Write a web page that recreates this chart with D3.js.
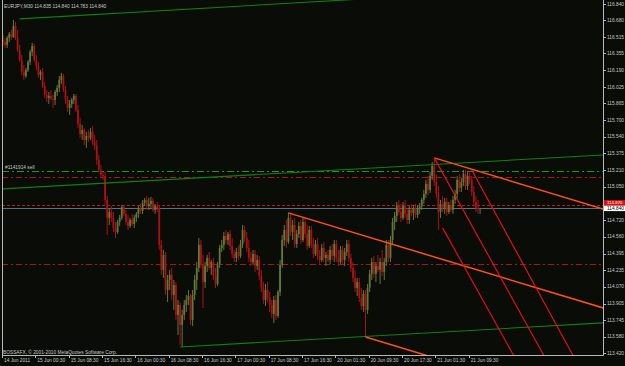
<!DOCTYPE html>
<html>
<head>
<meta charset="utf-8">
<script src="https://cdn.jsdelivr.net/npm/d3@7/dist/d3.min.js"></script>
<style>
  body { margin: 0; background: #0a0c08; }
  svg text { font-family: "Liberation Sans", Arial, sans-serif; }
</style>
</head>
<body>
<div id="chart"></div>
<script>
// EURJPY M30 bars, 14 Jun 2011 16:30 .. 21 Jun 2011
var opens = [
  116.488,116.468,116.439,116.508,116.547,116.517,116.625,116.508,116.390,116.292,
  116.174,116.135,116.194,116.272,116.370,116.429,116.292,116.233,116.145,116.174,
  116.037,115.949,115.920,115.939,115.910,115.900,115.978,116.018,116.096,116.135,
  115.998,115.900,115.822,115.861,115.900,115.939,115.802,115.665,115.567,115.606,
  115.508,115.547,115.528,115.586,115.488,115.449,115.312,115.214,115.165,115.155,
  114.920,114.744,114.802,114.744,114.646,114.606,114.704,114.744,114.851,114.783,
  114.704,114.665,114.724,114.685,114.744,114.783,114.842,114.812,114.891,114.920,
  114.861,114.881,114.910,114.822,114.861,114.842,114.479,114.234,114.381,114.038,
  114.136,114.185,113.989,114.087,113.793,113.891,113.695,113.793,113.891,113.940,
  113.979,113.744,113.989,114.136,114.254,114.479,114.283,114.116,114.273,114.352,
  114.254,114.312,114.175,114.097,114.283,114.450,114.479,114.567,114.528,114.587,
  114.469,114.391,114.352,114.410,114.371,114.489,114.626,114.548,114.450,114.352,
  114.312,114.391,114.273,114.332,114.175,114.058,113.940,114.038,113.960,113.891,
  113.803,113.940,113.783,114.018,114.283,114.528,114.626,114.508,114.744,114.606,
  114.675,114.489,114.587,114.665,114.528,114.704,114.587,114.469,114.626,114.489,
  114.391,114.489,114.371,114.332,114.450,114.352,114.381,114.332,114.430,114.371,
  114.489,114.352,114.312,114.430,114.332,114.410,114.489,114.352,114.254,114.156,
  114.058,114.116,113.960,113.881,113.999,113.842,114.058,114.195,114.312,114.195,
  114.273,114.234,114.312,114.214,114.312,114.479,114.352,114.528,114.704,114.763,
  114.861,114.802,114.744,114.861,114.783,114.724,114.822,114.793,114.842,114.773,
  114.842,114.861,114.920,114.979,115.077,115.018,115.155,115.253,115.096,114.979,
  114.802,114.881,114.842,114.900,114.802,114.871,114.822,114.920,114.979,115.116,
  115.038,115.096,115.175,115.057,115.155,115.116,114.998,114.900,114.842,114.835
];
var highs = [
  116.537,116.508,116.527,116.566,116.586,116.684,116.664,116.586,116.439,116.341,
  116.243,116.214,116.292,116.390,116.459,116.449,116.341,116.272,116.194,116.214,
  116.076,115.998,115.978,115.998,115.949,115.998,116.047,116.135,116.165,116.155,
  116.037,115.939,115.900,115.920,115.959,115.959,115.851,115.724,115.655,115.626,
  115.586,115.606,115.626,115.645,115.557,115.508,115.361,115.263,115.194,115.194,
  114.959,114.842,114.861,114.802,114.704,114.724,114.773,114.871,114.871,114.822,
  114.773,114.744,114.783,114.773,114.802,114.861,114.881,114.920,114.940,114.959,
  114.940,114.949,114.940,114.881,114.900,114.871,114.528,114.430,114.410,114.185,
  114.234,114.254,114.136,114.116,113.940,113.920,113.842,113.940,113.989,114.038,
  113.999,114.038,114.185,114.312,114.548,114.528,114.381,114.312,114.381,114.410,
  114.332,114.352,114.254,114.312,114.479,114.528,114.606,114.626,114.606,114.626,
  114.548,114.430,114.450,114.469,114.528,114.675,114.665,114.606,114.528,114.410,
  114.430,114.430,114.381,114.371,114.234,114.116,114.097,114.116,114.018,113.940,
  113.979,113.989,114.038,114.332,114.577,114.675,114.724,114.793,114.783,114.724,
  114.744,114.626,114.704,114.724,114.744,114.753,114.675,114.665,114.665,114.548,
  114.528,114.548,114.430,114.489,114.508,114.410,114.430,114.469,114.489,114.528,
  114.528,114.430,114.469,114.469,114.450,114.528,114.528,114.391,114.312,114.234,
  114.156,114.156,114.058,114.038,114.038,114.097,114.234,114.352,114.371,114.312,
  114.381,114.352,114.430,114.352,114.528,114.528,114.567,114.744,114.802,114.900,
  114.920,114.881,114.900,114.920,114.842,114.861,114.881,114.871,114.881,114.861,
  114.891,114.940,115.018,115.116,115.155,115.194,115.292,115.332,115.165,115.057,
  114.920,114.959,114.940,114.940,114.900,114.920,114.959,115.018,115.155,115.175,
  115.136,115.214,115.214,115.194,115.204,115.155,115.057,114.959,114.920,114.840
];
var lows = [
  116.429,116.410,116.410,116.468,116.488,116.508,116.488,116.370,116.272,116.145,
  116.096,116.116,116.174,116.243,116.331,116.272,116.194,116.116,116.096,116.018,
  115.920,115.880,115.861,115.900,115.822,115.851,115.939,115.978,116.057,115.978,
  115.861,115.782,115.753,115.822,115.861,115.782,115.626,115.528,115.508,115.459,
  115.430,115.488,115.508,115.459,115.410,115.263,115.194,115.136,115.116,114.871,
  114.577,114.675,114.704,114.606,114.548,114.587,114.665,114.724,114.763,114.675,
  114.626,114.646,114.665,114.646,114.704,114.744,114.783,114.783,114.861,114.822,
  114.822,114.842,114.802,114.783,114.802,114.430,114.185,114.156,113.989,113.920,
  114.038,113.940,113.842,113.744,113.597,113.499,113.479,113.744,113.822,113.891,
  113.695,113.685,113.940,114.038,114.214,114.254,113.862,114.058,114.214,114.234,
  114.185,114.136,114.058,114.077,114.254,114.410,114.430,114.489,114.479,114.430,
  114.352,114.312,114.312,114.332,114.352,114.450,114.508,114.410,114.312,114.273,
  114.283,114.214,114.234,114.136,114.018,113.901,113.881,113.920,113.822,113.764,
  113.715,113.744,113.764,113.979,114.254,114.469,114.450,114.489,114.567,114.528,
  114.450,114.450,114.548,114.489,114.508,114.548,114.430,114.450,114.450,114.352,
  114.371,114.332,114.293,114.312,114.312,114.273,114.312,114.293,114.332,114.312,
  114.312,114.273,114.293,114.293,114.273,114.371,114.312,114.214,114.116,114.018,
  113.979,113.920,113.842,113.822,113.577,113.803,114.018,114.136,114.156,114.116,
  114.214,114.097,114.175,114.136,114.273,114.312,114.312,114.489,114.626,114.704,
  114.773,114.704,114.724,114.744,114.685,114.685,114.763,114.724,114.744,114.744,
  114.783,114.822,114.881,114.940,114.969,114.989,115.116,115.057,114.940,114.626,
  114.744,114.802,114.783,114.763,114.783,114.802,114.783,114.881,114.940,114.998,
  114.998,115.057,115.018,115.018,115.077,114.959,114.861,114.802,114.783,114.783
];
var closes = [
  116.468,116.439,116.508,116.547,116.517,116.625,116.508,116.390,116.292,116.174,
  116.135,116.194,116.272,116.370,116.429,116.292,116.233,116.145,116.174,116.037,
  115.949,115.920,115.939,115.910,115.900,115.978,116.018,116.096,116.135,115.998,
  115.900,115.822,115.861,115.900,115.939,115.802,115.665,115.567,115.606,115.508,
  115.547,115.528,115.586,115.488,115.449,115.312,115.214,115.165,115.155,114.920,
  114.744,114.802,114.744,114.646,114.606,114.704,114.744,114.851,114.783,114.704,
  114.665,114.724,114.685,114.744,114.783,114.842,114.812,114.891,114.920,114.861,
  114.881,114.910,114.822,114.861,114.842,114.479,114.234,114.381,114.038,114.136,
  114.185,113.989,114.087,113.793,113.891,113.695,113.793,113.891,113.940,113.979,
  113.744,113.989,114.136,114.254,114.479,114.283,114.116,114.273,114.352,114.254,
  114.312,114.175,114.097,114.283,114.450,114.479,114.567,114.528,114.587,114.469,
  114.391,114.352,114.410,114.371,114.489,114.626,114.548,114.450,114.352,114.312,
  114.391,114.273,114.332,114.175,114.058,113.940,114.038,113.960,113.891,113.803,
  113.940,113.783,114.018,114.283,114.528,114.626,114.508,114.744,114.606,114.675,
  114.489,114.587,114.665,114.528,114.704,114.587,114.469,114.626,114.489,114.391,
  114.489,114.371,114.332,114.450,114.352,114.381,114.332,114.430,114.371,114.489,
  114.352,114.312,114.430,114.332,114.410,114.489,114.352,114.254,114.156,114.058,
  114.116,113.960,113.881,113.999,113.842,114.058,114.195,114.312,114.195,114.273,
  114.234,114.312,114.214,114.312,114.479,114.352,114.528,114.704,114.763,114.861,
  114.802,114.744,114.861,114.783,114.724,114.822,114.793,114.842,114.773,114.842,
  114.861,114.920,114.979,115.077,115.018,115.155,115.253,115.096,114.979,114.802,
  114.881,114.842,114.900,114.802,114.871,114.822,114.920,114.979,115.116,115.038,
  115.096,115.175,115.057,115.155,115.116,114.998,114.900,114.842,114.835,114.840
];

var priceTicks = [116.840,116.680,116.515,116.355,116.190,116.025,115.865,115.700,115.540,
  115.375,115.210,115.050,114.720,114.560,114.395,114.235,114.070,113.905,113.745,113.580,113.420];
var timeTickBars = [0,16,32,48,64,80,96,112,128,144,160,176,192,208,224];
var timeLabels = ["14 Jun 2011","15 Jun 00:30","15 Jun 08:30","15 Jun 16:30","16 Jun 00:30",
  "16 Jun 08:30","16 Jun 16:30","17 Jun 00:30","17 Jun 08:30","17 Jun 16:30","20 Jun 01:30",
  "20 Jun 09:30","20 Jun 17:30","21 Jun 01:30","21 Jun 09:30"];

// trend lines: [bar1, price1, bar2, price2]
var channelLines = [[8,116.694,100,116.803],[0,115.028,288,115.361],[85,113.479,288,113.715]];
var fanLines = [[137,114.793,288,113.862],[207,115.332,288,114.832],[174,113.577,288,112.874]];
var forkLines = [[207,115.332,259.5,113.40],[211,114.646,245,113.40],[225,115.214,273.5,113.40]];

var orderPrice = 115.204, orderLabel = "#1141914 sell";
var stopPrice = 115.145, targetPrice = 114.293;
var askPrice = 114.870, bidPrice = 114.840;
var header = "EURJPY,M30  114.835 114.840 114.783 114.840";
var copyright = "BOSSAFX, \u00a9 2001-2010 MetaQuotes Software Corp.";

var W = 625, H = 366;
var pLeft = 2, pRight = 603, pTop = 0, pBottom = 355;
var bg = "#0a0c08", fg = "#c8c8c8", fs = 4.8;

var x = d3.scaleLinear().domain([0, 288]).range([3, 603]);
var y = d3.scaleLinear().domain([113.42, 116.84]).range([353, 4]);

var svg = d3.select("#chart").append("svg").attr("width", W).attr("height", H);
svg.append("rect").attr("width", W).attr("height", H).attr("fill", bg);

svg.append("clipPath").attr("id", "plot")
  .append("rect").attr("x", pLeft).attr("y", pTop).attr("width", pRight - pLeft).attr("height", pBottom - pTop);

var g = svg.append("g").attr("clip-path", "url(#plot)");

// horizontal order / price lines
function hline(p, color, dash, w) {
  g.append("line").attr("x1", pLeft).attr("x2", pRight)
    .attr("y1", Math.round(y(p)) + 0.5).attr("y2", Math.round(y(p)) + 0.5)
    .attr("stroke", color).attr("stroke-width", w || 1).attr("stroke-dasharray", dash);
}
hline(targetPrice, "#a81818", "6,3,2,3");
hline(stopPrice, "#a81818", "6,3,2,3");
hline(orderPrice, "#1c9a1c", "7,3,2,3");
hline(askPrice, "#b81818", "3,2");
hline(bidPrice, "#5f6f84", null);

// candles
var data = d3.range(closes.length).map(function (i) {
  return { i: i, o: opens[i], h: highs[i], l: lows[i], c: closes[i] };
});
var bull = "#62783a", bear = "#a81212";
var cg = g.selectAll("g.bar").data(data).enter().append("g").attr("class", "bar");
cg.append("line")
  .attr("x1", function (d) { return x(d.i); })
  .attr("x2", function (d) { return x(d.i); })
  .attr("y1", function (d) { return y(d.h); })
  .attr("y2", function (d) { return y(d.l); })
  .attr("stroke", function (d) { return d.c >= d.o ? bull : bear; })
  .attr("stroke-width", 1);
cg.append("rect")
  .attr("x", function (d) { return x(d.i) - 0.9; })
  .attr("width", 1.8)
  .attr("y", function (d) { return y(Math.max(d.o, d.c)); })
  .attr("height", function (d) { return Math.max(1, Math.abs(y(d.o) - y(d.c))); })
  .attr("fill", function (d) { return d.c >= d.o ? bull : bear; });

// trend lines, extended to the right edge
function drawLine(L, color, w) {
  var slope = (L[3] - L[1]) / (L[2] - L[0]);
  var endBar = 300;
  g.append("line")
    .attr("x1", x(L[0])).attr("y1", y(L[1]))
    .attr("x2", x(endBar)).attr("y2", y(L[1] + slope * (endBar - L[0])))
    .attr("stroke", color).attr("stroke-width", w);
}
channelLines.forEach(function (L) { drawLine(L, "#127f12", 1.1); });
fanLines.forEach(function (L) { drawLine(L, "#ff5210", 1.5); });
forkLines.forEach(function (L) { drawLine(L, "#f01010", 1.1); });

// frame
svg.append("path")
  .attr("d", "M" + (pLeft + 0.5) + "," + pTop + "V" + (pBottom + 0.5) + "H" + (pRight + 0.5) + "V" + pTop)
  .attr("fill", "none").attr("stroke", "#b8b8b8").attr("stroke-width", 1);

// price axis
var pa = svg.append("g");
pa.selectAll("line").data(priceTicks).enter().append("line")
  .attr("x1", pRight).attr("x2", pRight + 3)
  .attr("y1", function (d) { return Math.round(y(d)) + 0.5; })
  .attr("y2", function (d) { return Math.round(y(d)) + 0.5; })
  .attr("stroke", "#b8b8b8");
pa.selectAll("text").data(priceTicks).enter().append("text")
  .attr("x", pRight + 4).attr("y", function (d) { return y(d) + 1.8; })
  .attr("font-size", fs).attr("fill", fg)
  .text(function (d) { return d.toFixed(3); });

// current price labels: ask box sits just above the bid box
var bidY = y(bidPrice);
pa.append("rect").attr("x", pRight + 1).attr("y", bidY - 8).attr("width", 21).attr("height", 5.5).attr("fill", "#e01010");
pa.append("text").attr("x", pRight + 4).attr("y", bidY - 3.6).attr("font-size", fs - 0.4).attr("fill", "#ffffff").text(askPrice.toFixed(3));
pa.append("rect").attr("x", pRight + 1).attr("y", bidY - 2.5).attr("width", 21).attr("height", 5.5).attr("fill", "#ffffff");
pa.append("text").attr("x", pRight + 4).attr("y", bidY + 2).attr("font-size", fs).attr("fill", "#000000").text(bidPrice.toFixed(3));

// time axis
var ta = svg.append("g");
ta.selectAll("line").data(timeTickBars).enter().append("line")
  .attr("x1", function (d) { return Math.round(x(d)) - 0.5; })
  .attr("x2", function (d) { return Math.round(x(d)) - 0.5; })
  .attr("y1", pBottom).attr("y2", pBottom + 3)
  .attr("stroke", "#b8b8b8");
ta.selectAll("text").data(timeTickBars).enter().append("text")
  .attr("x", function (d) { return x(d) + 1; })
  .attr("y", pBottom + 7)
  .attr("font-size", fs).attr("fill", fg)
  .text(function (d, i) { return timeLabels[i]; });

// texts
svg.append("text").attr("x", 4).attr("y", 7.5).attr("font-size", fs).attr("fill", fg).text(header);
svg.append("text").attr("x", 5).attr("y", y(orderPrice) - 2).attr("font-size", fs).attr("fill", fg).text(orderLabel);
svg.append("text").attr("x", 3).attr("y", pBottom - 1.5).attr("font-size", fs).attr("fill", fg).text(copyright);
</script>
</body>
</html>
